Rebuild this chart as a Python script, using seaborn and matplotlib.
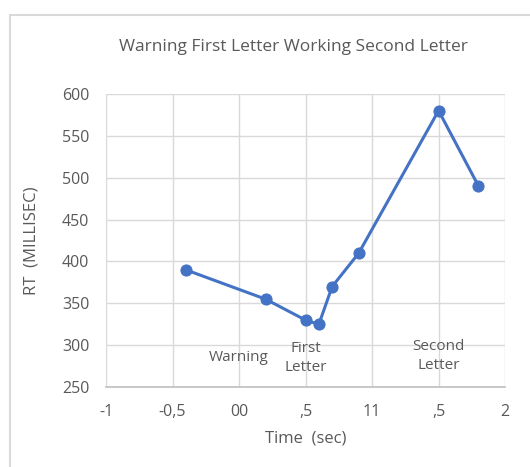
import pandas as pd
import matplotlib
matplotlib.use("Agg")
import matplotlib.pyplot as plt
import seaborn as sns

# Reaction time readings taken off the chart
time_sec = [-0.4, 0.2, 0.5, 0.6, 0.7, 0.9, 1.5, 1.8]
rt_ms = [390, 355, 330, 325, 370, 410, 580, 490]

x_ticks = [-1, -0.5, 0, 0.5, 1, 1.5, 2]
x_tick_labels = ["-1", "-0,5", "00", ",5", "11", ",5", "2"]
y_ticks = [250, 300, 350, 400, 450, 500, 550, 600]

phase_labels = ["Warning", "First\nLetter", "Second\nLetter"]
phase_x = [0.0, 0.5, 1.5]
phase_y = [285, 285, 287]

df = pd.DataFrame({"time": time_sec, "rt": rt_ms})

sns.set_style("white")
plt.rcParams["font.family"] = ["Open Sans", "DejaVu Sans"]

text_gray = "#595959"
grid_gray = "#d9d9d9"

fig = plt.figure(figsize=(5.3, 4.67), dpi=100)
ax = fig.add_axes([0.2, 0.171, 0.753, 0.628])

sns.lineplot(data=df, x="time", y="rt", ax=ax, color="#4472C4",
             linewidth=2.2, marker="o", markersize=8,
             markeredgecolor="#4472C4", sort=False, zorder=3)

ax.set_xlim(-1, 2)
ax.set_ylim(250, 600)
ax.set_xticks(x_ticks)
ax.set_xticklabels(x_tick_labels)
ax.set_yticks(y_ticks)
ax.grid(True, color=grid_gray, linewidth=1)
ax.set_axisbelow(True)

for side in ["top", "right", "left"]:
    ax.spines[side].set_visible(False)
ax.spines["bottom"].set_color("#bfbfbf")
ax.spines["bottom"].set_linewidth(1.2)

ax.tick_params(axis="both", length=0, labelsize=11.5, colors=text_gray, pad=12)

ax.set_xlabel("Time  (sec)", fontsize=12, color=text_gray, labelpad=8)
ax.set_ylabel("RT  (MILLISEC)", fontsize=12, color=text_gray, labelpad=16)

fig.text(0.553, 0.90, "Warning First Letter Working Second Letter",
         ha="center", va="center", fontsize=12.5, color=text_gray)

for lbl, px, py in zip(phase_labels, phase_x, phase_y):
    ax.text(px, py, lbl, ha="center", va="center", fontsize=11,
            color=text_gray, linespacing=1.4)

# light chart border like the spreadsheet frame
frame = plt.Rectangle((0.019, -0.1), 1.2, 1.068, transform=fig.transFigure,
                      fill=False, edgecolor="#d9d9d9", linewidth=1.5)
fig.add_artist(frame)

fig.savefig("out.png", dpi=100)
